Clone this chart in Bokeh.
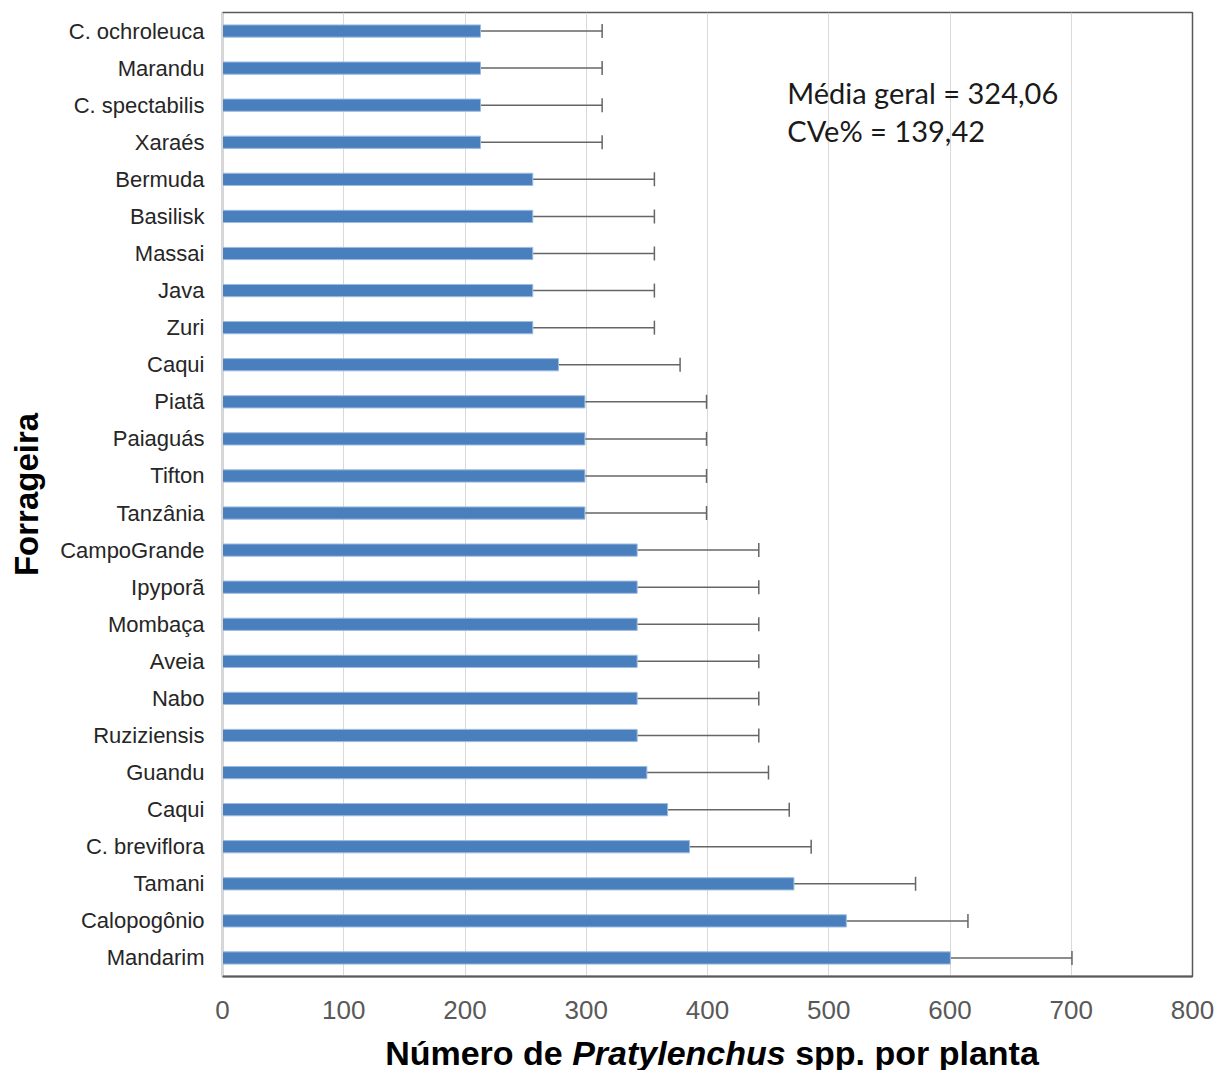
from bokeh.plotting import figure
from bokeh.models import (ColumnDataSource, Range1d, FixedTicker,
                          Whisker, TeeHead, Label, Div)
from bokeh.layouts import column
from bokeh.embed import file_html
from bokeh.resources import INLINE

# ---- data (top to bottom as in the chart) ----
forrageiras = ["C. ochroleuca", "Marandu", "C. spectabilis", "Xaraés", "Bermuda",
               "Basilisk", "Massai", "Java", "Zuri", "Caqui", "Piatã", "Paiaguás",
               "Tifton", "Tanzânia", "CampoGrande", "Ipyporã", "Mombaça", "Aveia",
               "Nabo", "Ruziziensis", "Guandu", "Caqui", "C. breviflora", "Tamani",
               "Calopogônio", "Mandarim"]
pratylenchus = [212.8, 212.8, 212.8, 212.8, 255.9, 255.9, 255.9, 255.9, 255.9, 277.1,
                298.9, 298.9, 298.9, 298.9, 342.0, 342.0, 342.0, 342.0, 342.0, 342.0,
                350.0, 367.1, 385.2, 471.3, 514.5, 600.3]
erro = [100.3] * 26
x_ticks = [0, 100, 200, 300, 400, 500, 600, 700, 800]
anotacao = ["Média geral = 324,06", "CVe% = 139,42"]

n = len(forrageiras)
ypos = [n - 1 - i for i in range(n)]
upper = [v + e for v, e in zip(pratylenchus, erro)]

src = ColumnDataSource(dict(y=ypos, v=pratylenchus, up=upper, name=forrageiras))

p = figure(output_backend="svg", toolbar_location=None,
           frame_width=970, frame_height=964,
           min_border_left=222, min_border_right=28, min_border_top=12, min_border_bottom=55,
           x_range=Range1d(0, 800), y_range=Range1d(-0.5, n - 0.5))
p.background_fill_color = "white"
p.border_fill_color = "white"

p.hbar(y="y", right="v", left=0, height=0.33, source=src,
       fill_color="#4a7fbd", line_color="#9dbbe0", line_width=1)

w = Whisker(base="y", lower="v", upper="up", dimension="width", source=src,
            line_color="#666666", line_width=1.5,
            upper_head=TeeHead(size=14, line_color="#666666", line_width=1.5),
            lower_head=None)
p.add_layout(w)

# axes
p.xaxis.ticker = FixedTicker(ticks=x_ticks)
p.xaxis.major_tick_line_color = None
p.xaxis.minor_tick_line_color = None
p.xaxis.major_label_text_font = "Liberation Sans"
p.xaxis.major_label_text_font_size = "26px"
p.xaxis.major_label_text_color = "#595959"
p.xaxis.major_label_standoff = 18
p.xaxis.axis_line_color = "#595959"
p.xaxis.axis_line_width = 2

p.yaxis.ticker = FixedTicker(ticks=ypos)
p.yaxis.major_label_overrides = {y: name for y, name in zip(ypos, forrageiras)}
p.yaxis.major_tick_line_color = None
p.yaxis.minor_tick_line_color = None
p.yaxis.major_label_text_font = "Liberation Sans"
p.yaxis.major_label_text_font_size = "22px"
p.yaxis.major_label_text_color = "#262626"
p.yaxis.major_label_standoff = 12
p.yaxis.axis_line_color = "#d9d9d9"
p.yaxis.axis_label = "Forrageira"
p.yaxis.axis_label_text_font = "Liberation Sans"
p.yaxis.axis_label_text_font_style = "bold"
p.yaxis.axis_label_text_font_size = "33px"
p.yaxis.axis_label_text_color = "black"
p.yaxis.axis_label_standoff = 12

p.xgrid.ticker = FixedTicker(ticks=x_ticks)
p.xgrid.grid_line_color = "#d9d9d9"
p.xgrid.grid_line_width = 1
p.ygrid.grid_line_color = None

p.outline_line_color = "#595959"
p.outline_line_width = 1.5

for txt, yy in zip(anotacao, [23.34, 22.32]):
    p.add_layout(Label(x=465.8, y=yy, text=txt, text_font="Lato",
                       text_font_size="29px", text_color="#1a1a1a",
                       text_baseline="middle", text_align="left"))

titulo = Div(text='<div style="width:970px;margin-left:222px;text-align:center;'
                  'font-family:\'Liberation Sans\',Arial,sans-serif;font-weight:bold;'
                  'font-size:34px;line-height:34px;color:#000;white-space:nowrap">'
                  'Número de <i>Pratylenchus</i> spp. por planta</div>',
             width=1220, height=34)

layout = column(p, titulo, spacing=0)
open("out.html", "w").write(file_html(layout, INLINE))
